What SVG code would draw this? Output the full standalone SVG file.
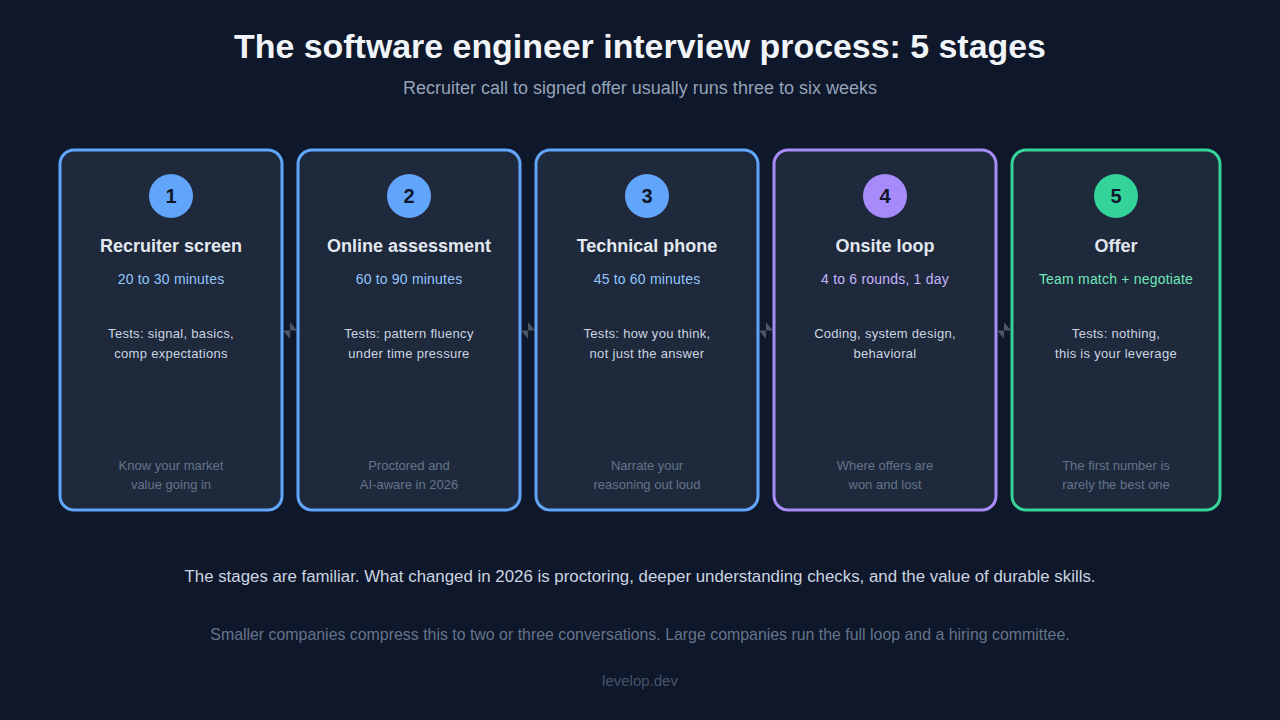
<svg xmlns="http://www.w3.org/2000/svg" width="1280" height="720" viewBox="0 0 1280 720">
<style>
text{font-family:"Liberation Sans",Arial,sans-serif;text-anchor:middle}
.card{fill:#1e293b;stroke-width:3}
.num{font-size:20px;font-weight:bold;fill:#0f172a}
.ttl{font-size:18px;font-weight:bold;fill:#e2e8f0}
.sub{font-size:14px;letter-spacing:0.2px}
.body{font-size:13px;fill:#cbd5e1;letter-spacing:0.3px}
.foot{font-size:13px;fill:#64748b}
.conn{fill:#4b5563}
</style>
<rect width="1280" height="720" fill="#0f172a"/>
<text x="640" y="58" font-size="33.9" font-weight="bold" fill="#f1f5f9">The software engineer interview process: 5 stages</text>
<text x="640" y="94" font-size="18" fill="#94a3b8">Recruiter call to signed offer usually runs three to six weeks</text>
<g id="connectors">
<path class="conn" d="M290,322 L297,330.5 L290,330.5 Z M283,330.5 L290,330.5 L290,339 Z"/>
<path class="conn" d="M528,322 L535,330.5 L528,330.5 Z M521,330.5 L528,330.5 L528,339 Z"/>
<path class="conn" d="M766,322 L773,330.5 L766,330.5 Z M759,330.5 L766,330.5 L766,339 Z"/>
<path class="conn" d="M1004,322 L1011,330.5 L1004,330.5 Z M997,330.5 L1004,330.5 L1004,339 Z"/>
</g>
<g id="stage1">
<rect class="card" x="60" y="150" width="222" height="360" rx="14" stroke="#60a5fa"/>
<circle cx="171" cy="196" r="22" fill="#60a5fa"/>
<text class="num" x="171" y="203">1</text>
<text class="ttl" x="171" y="252">Recruiter screen</text>
<text class="sub" x="171" y="284" fill="#93c5fd">20 to 30 minutes</text>
<text class="body" x="171" y="338">Tests: signal, basics,</text>
<text class="body" x="171" y="358">comp expectations</text>
<text class="foot" x="171" y="470">Know your market</text>
<text class="foot" x="171" y="489">value going in</text>
</g>
<g id="stage2">
<rect class="card" x="298" y="150" width="222" height="360" rx="14" stroke="#60a5fa"/>
<circle cx="409" cy="196" r="22" fill="#60a5fa"/>
<text class="num" x="409" y="203">2</text>
<text class="ttl" x="409" y="252">Online assessment</text>
<text class="sub" x="409" y="284" fill="#93c5fd">60 to 90 minutes</text>
<text class="body" x="409" y="338">Tests: pattern fluency</text>
<text class="body" x="409" y="358">under time pressure</text>
<text class="foot" x="409" y="470">Proctored and</text>
<text class="foot" x="409" y="489">AI-aware in 2026</text>
</g>
<g id="stage3">
<rect class="card" x="536" y="150" width="222" height="360" rx="14" stroke="#60a5fa"/>
<circle cx="647" cy="196" r="22" fill="#60a5fa"/>
<text class="num" x="647" y="203">3</text>
<text class="ttl" x="647" y="252">Technical phone</text>
<text class="sub" x="647" y="284" fill="#93c5fd">45 to 60 minutes</text>
<text class="body" x="647" y="338">Tests: how you think,</text>
<text class="body" x="647" y="358">not just the answer</text>
<text class="foot" x="647" y="470">Narrate your</text>
<text class="foot" x="647" y="489">reasoning out loud</text>
</g>
<g id="stage4">
<rect class="card" x="774" y="150" width="222" height="360" rx="14" stroke="#a78bfa"/>
<circle cx="885" cy="196" r="22" fill="#a78bfa"/>
<text class="num" x="885" y="203">4</text>
<text class="ttl" x="885" y="252">Onsite loop</text>
<text class="sub" x="885" y="284" fill="#c4b5fd">4 to 6 rounds, 1 day</text>
<text class="body" x="885" y="338">Coding, system design,</text>
<text class="body" x="885" y="358">behavioral</text>
<text class="foot" x="885" y="470">Where offers are</text>
<text class="foot" x="885" y="489">won and lost</text>
</g>
<g id="stage5">
<rect class="card" x="1012" y="150" width="208" height="360" rx="14" stroke="#34d399"/>
<circle cx="1116" cy="196" r="22" fill="#34d399"/>
<text class="num" x="1116" y="203">5</text>
<text class="ttl" x="1116" y="252">Offer</text>
<text class="sub" x="1116" y="284" fill="#6ee7b7">Team match + negotiate</text>
<text class="body" x="1116" y="338">Tests: nothing,</text>
<text class="body" x="1116" y="358">this is your leverage</text>
<text class="foot" x="1116" y="470">The first number is</text>
<text class="foot" x="1116" y="489">rarely the best one</text>
</g>
<text x="640" y="582" font-size="16.85" fill="#cbd5e1">The stages are familiar. What changed in 2026 is proctoring, deeper understanding checks, and the value of durable skills.</text>
<text x="640" y="640" font-size="15.9" fill="#64748b">Smaller companies compress this to two or three conversations. Large companies run the full loop and a hiring committee.</text>
<text x="640" y="686" font-size="15" fill="#475569">levelop.dev</text>
</svg>
